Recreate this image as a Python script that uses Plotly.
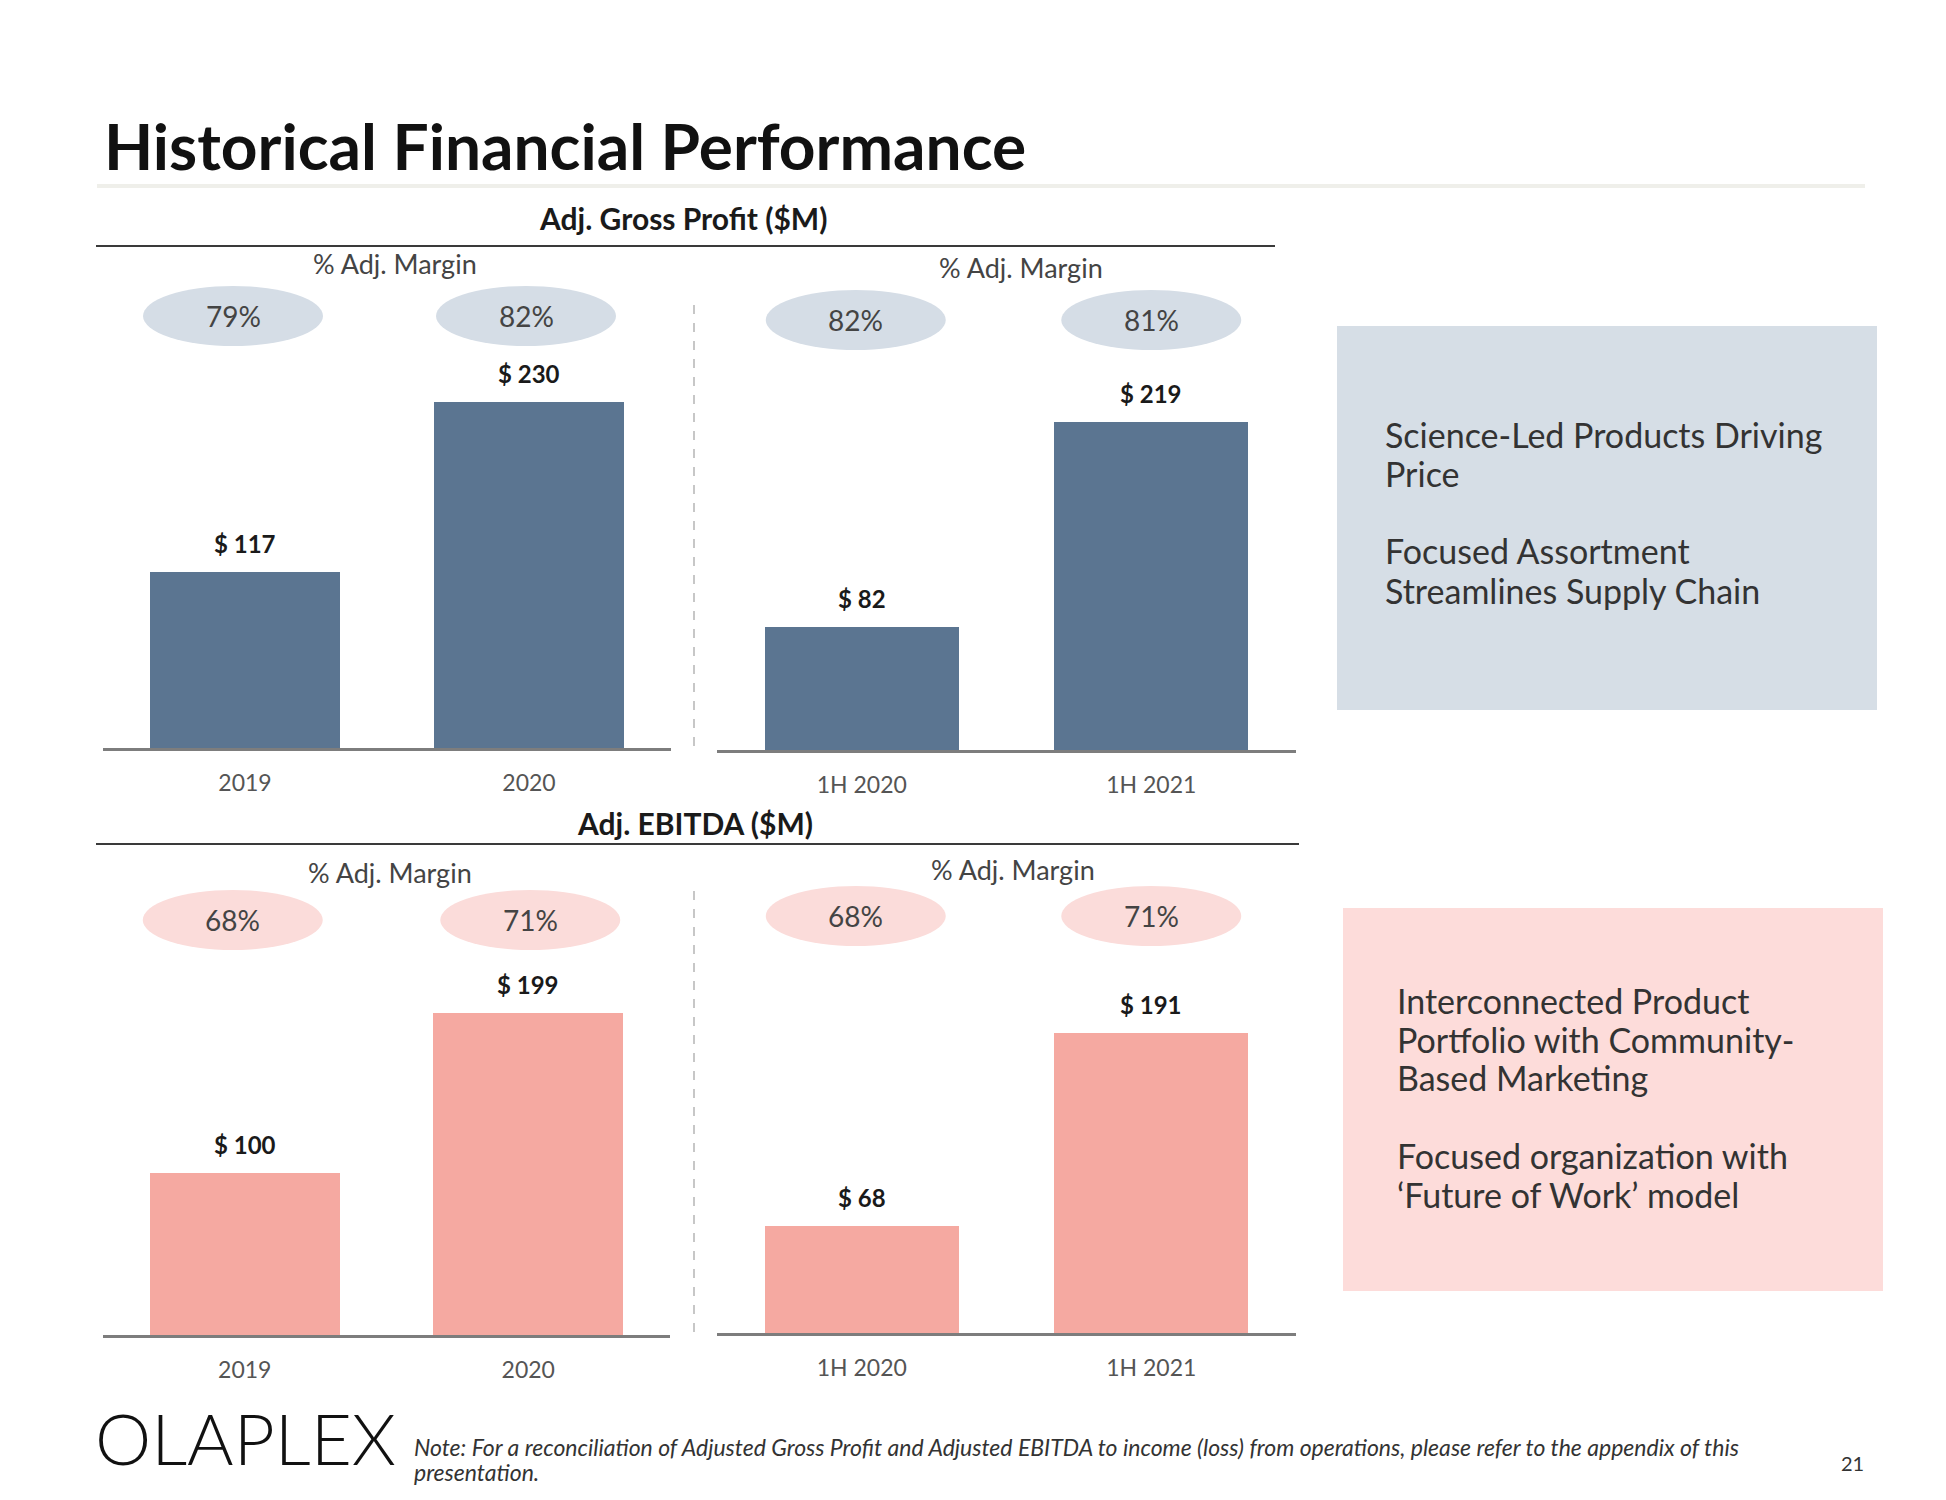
import plotly.graph_objects as go

W, H = 1946, 1500

# ---------------- data ----------------
periods_annual = ["2019", "2020"]
periods_half = ["1H 2020", "1H 2021"]
gross_profit_annual = [117, 230]
gross_profit_half = [82, 219]
gross_margin_annual = ["79%", "82%"]
gross_margin_half = ["82%", "81%"]
ebitda_annual = [100, 199]
ebitda_half = [68, 191]
ebitda_margin_annual = ["68%", "71%"]
ebitda_margin_half = ["68%", "71%"]

title_text = "Historical Financial Performance"
gp_heading = "Adj. Gross Profit ($M)"
ebitda_heading = "Adj. EBITDA ($M)"
margin_heading = "% Adj. Margin"
box_top_lines = ["Science-Led Products Driving", "Price",
                 "Focused Assortment", "Streamlines Supply Chain"]
box_bottom_lines = ["Interconnected Product", "Portfolio with Community-", "Based Marketing",
                    "Focused organization with", "\u2018Future of Work\u2019 model"]
note_lines = ["Note: For a reconciliation of Adjusted Gross Profit and Adjusted EBITDA to income (loss) "
              "from operations, please refer to the appendix of this", "presentation."]
brand = "OLAPLEX"
page_no = "21"

# ---------------- styles ----------------
FONT = "Lato, 'Open Sans', sans-serif"
BLUE = "#5b7591"
SALMON = "#f5a9a1"
ELL_BLUE = "#d5dde6"
ELL_PINK = "#fbdcda"
BOX_BLUE = "#d6dee6"
BOX_PINK = "#fddcda"


def px(x):
    return x / W


def py(y):
    return 1 - y / H


panels = [
    dict(ax="x", ay="y", cats=periods_annual, vals=gross_profit_annual, margins=gross_margin_annual,
         color=BLUE, ell=ELL_BLUE, x0=103, x1=671, base=748, top=300, scale=1.504, ell_y=316,
         ell_dx=[-12, -3]),
    dict(ax="x2", ay="y2", cats=periods_half, vals=gross_profit_half, margins=gross_margin_half,
         color=BLUE, ell=ELL_BLUE, x0=717, x1=1296, base=750, top=300, scale=1.497, ell_y=320,
         ell_dx=[-6, 0]),
    dict(ax="x3", ay="y3", cats=periods_annual, vals=ebitda_annual, margins=ebitda_margin_annual,
         color=SALMON, ell=ELL_PINK, x0=103, x1=670, base=1335, top=900, scale=1.62, ell_y=920,
         ell_dx=[-12, 2]),
    dict(ax="x4", ay="y4", cats=periods_half, vals=ebitda_half, margins=ebitda_margin_half,
         color=SALMON, ell=ELL_PINK, x0=717, x1=1296, base=1333, top=900, scale=1.57, ell_y=916,
         ell_dx=[-6, 0]),
]

fig = go.Figure()
shapes = []
annotations = []
layout_axes = {}

for p in panels:
    fig.add_trace(go.Bar(
        x=p["cats"], y=p["vals"], xaxis=p["ax"], yaxis=p["ay"],
        marker=dict(color=p["color"], line=dict(width=0)), width=0.67,
        showlegend=False, hoverinfo="x+y",
    ))
    xkey = "xaxis" + p["ax"][1:]
    ykey = "yaxis" + p["ay"][1:]
    layout_axes[xkey] = dict(
        type="category", domain=[px(p["x0"]), px(p["x1"])], range=[-0.5, 1.5],
        anchor=p["ay"], showline=True, linecolor="#7d7d7d", linewidth=3,
        showgrid=False, zeroline=False, ticks="", ticklabelstandoff=12,
        tickfont=dict(family=FONT, size=23, color="#555555"), fixedrange=True,
    )
    layout_axes[ykey] = dict(
        domain=[py(p["base"]), py(p["top"])], range=[0, (p["base"] - p["top"]) / p["scale"]],
        anchor=p["ax"], visible=False, fixedrange=True,
    )
    unit_px = (p["x1"] - p["x0"]) / 2.0
    hw = 90 / unit_px
    for i, (val, m) in enumerate(zip(p["vals"], p["margins"])):
        cx = i + p["ell_dx"][i] / unit_px
        shapes.append(dict(type="circle", xref=p["ax"], yref="paper",
                           x0=cx - hw, x1=cx + hw, y0=py(p["ell_y"] + 30), y1=py(p["ell_y"] - 30),
                           fillcolor=p["ell"], line=dict(width=0), layer="below"))
        annotations.append(dict(x=cx, xref=p["ax"], y=py(p["ell_y"]), yref="paper",
                                text=m, showarrow=False, xanchor="center", yanchor="middle",
                                font=dict(family=FONT, size=28, color="#444444")))
        annotations.append(dict(x=i, xref=p["ax"], y=val, yref=p["ay"],
                                text="<b>$ %d</b>" % val, showarrow=False,
                                xanchor="center", yanchor="bottom", yshift=12,
                                font=dict(family=FONT, size=24, color="#1a1a1a")))

# lines and boxes
shapes += [
    dict(type="line", xref="paper", yref="paper", x0=px(97), x1=px(1865), y0=py(186), y1=py(186),
         line=dict(color="#efefea", width=4)),
    dict(type="line", xref="paper", yref="paper", x0=px(96), x1=px(1275), y0=py(246), y1=py(246),
         line=dict(color="#3a3a3a", width=2)),
    dict(type="line", xref="paper", yref="paper", x0=px(96), x1=px(1299), y0=py(844), y1=py(844),
         line=dict(color="#3a3a3a", width=2)),
    dict(type="line", xref="paper", yref="paper", x0=px(694), x1=px(694), y0=py(305), y1=py(751),
         line=dict(color="#b5b5b5", width=1.5, dash="dash")),
    dict(type="line", xref="paper", yref="paper", x0=px(694), x1=px(694), y0=py(891), y1=py(1338),
         line=dict(color="#b5b5b5", width=1.5, dash="dash")),
    dict(type="rect", xref="paper", yref="paper", x0=px(1337), x1=px(1877), y0=py(710), y1=py(326),
         fillcolor=BOX_BLUE, line=dict(width=0), layer="below"),
    dict(type="rect", xref="paper", yref="paper", x0=px(1343), x1=px(1883), y0=py(1291), y1=py(908),
         fillcolor=BOX_PINK, line=dict(width=0), layer="below"),
]


def text(x, y, t, size, color="#333333", xanchor="center", bold=False, italic=False, family=FONT):
    if bold:
        t = "<b>" + t + "</b>"
    if italic:
        t = "<i>" + t + "</i>"
    annotations.append(dict(x=px(x), y=py(y), xref="paper", yref="paper", text=t, showarrow=False,
                            xanchor=xanchor, yanchor="middle", align="left",
                            font=dict(family=family, size=size, color=color)))


text(102, 145, title_text, 64, "#111111", xanchor="left", bold=True)
text(683, 218, gp_heading, 30, "#1a1a1a", bold=True)
text(695, 823, ebitda_heading, 30, "#1a1a1a", bold=True)
text(395, 264, margin_heading, 27, "#444444")
text(1021, 268, margin_heading, 27, "#444444")
text(390, 872, margin_heading, 27, "#444444")
text(1013, 869, margin_heading, 27, "#444444")

for line, yy in zip(box_top_lines, [434, 473, 551, 590]):
    text(1383, yy, line, 34, "#333333", xanchor="left")
for line, yy in zip(box_bottom_lines, [1000, 1039, 1077, 1155, 1194]):
    text(1395, yy, line, 34, "#333333", xanchor="left")

text(93, 1437, brand, 71, "#111111", xanchor="left", family="'Lato Light', Lato, sans-serif")
for line, yy in zip(note_lines, [1447, 1472]):
    text(412, yy, line, 23, "#333333", xanchor="left", italic=True)
text(1852, 1463, page_no, 20, "#333333")

fig.update_layout(
    width=W, height=H, autosize=False,
    margin=dict(l=0, r=0, t=0, b=0, pad=0),
    paper_bgcolor="white", plot_bgcolor="rgba(0,0,0,0)",
    shapes=shapes, annotations=annotations, bargap=0,
    font=dict(family=FONT),
    **layout_axes,
)

fig.write_html("out.html", config={"displayModeBar": False},
               post_script="document.body.style.margin='0';")
